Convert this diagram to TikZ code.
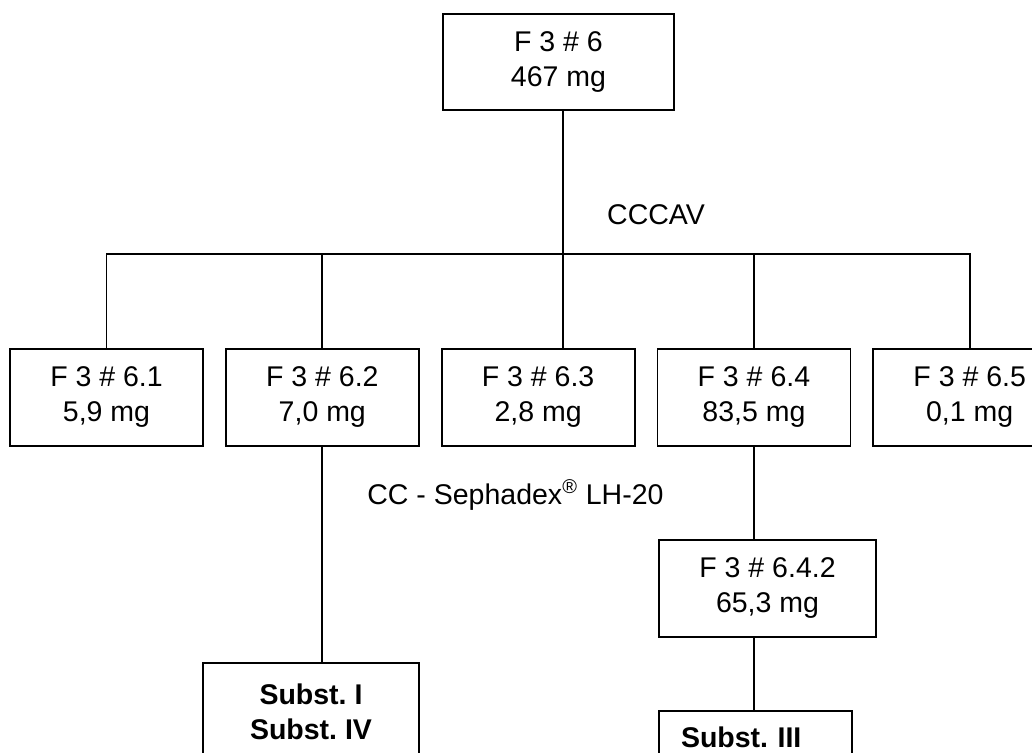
\documentclass[tikz,border=0pt]{standalone}
\usepackage{fontspec}
\setmainfont{Liberation Sans}
\usetikzlibrary{positioning}
\frenchspacing

\begin{document}
\begin{tikzpicture}[x=0.5pt,y=-0.5pt,
  frac/.style={draw,line width=0.9pt,align=center,minimum width=96.5pt,minimum height=48.5pt,inner sep=2pt,font=\fontsize{14.25}{17.5}\selectfont},
  subst/.style={frac,font=\fontsize{14.25}{17.5}\selectfont\bfseries},
  lbl/.style={inner sep=0pt,font=\fontsize{14.25}{17.5}\selectfont},
  link/.style={line width=0.9pt}]
\useasboundingbox (0,0) rectangle (1032,753);
\clip (0,0) rectangle (1032,753);
\node[frac,minimum width=115.5pt,minimum height=48pt] (f6) at (558.5,62) {F 3 \# 6\\467 mg};
\node[frac] (f61) at (106.5,397.5) {F 3 \# 6.1\\5,9 mg};
\node[frac,right=10.5pt of f61] (f62) {F 3 \# 6.2\\7,0 mg};
\node[frac,right=10.5pt of f62] (f63) {F 3 \# 6.3\\2,8 mg};
\node[frac,right=10.5pt of f63] (f64) {F 3 \# 6.4\\83,5 mg};
\node[frac,right=10.5pt of f64] (f65) {F 3 \# 6.5\\0,1 mg};
\coordinate (hub) at (563,254);
\node[lbl] (cccav) at (656,215) {CCCAV};
\draw[link] (f6.south -| hub) -- (hub);
\draw[link] (f61.north) -- (f61.north |- hub) -- (f65.north |- hub) -- (f65.north);
\draw[link] (f62.north) -- (f62.north |- hub);
\draw[link] (hub) -- (hub |- f63.north);
\draw[link] (f64.north) -- (f64.north |- hub);
% second column
\node[frac,minimum width=108.5pt] (f642) at (767.5,588.5) {F 3 \# 6.4.2\\65,3 mg};
\node[subst,minimum width=108pt,anchor=north] (s1) at (311,662) {Subst. I\\Subst. IV};
\node[subst,anchor=north,align=left,text width=74.5pt,inner xsep=11pt,inner ysep=4pt,text height=14.5pt,text depth=26pt] (s3) at (755.5,710) {Subst. III};
\node[lbl,anchor=west] (sepha) at (367,495) {CC - Sephadex\textsuperscript{®} LH-20};
\draw[link] (f62.south) -- (f62.south |- s1.north);
\draw[link] (f64.south) -- (f64.south |- f642.north);
\draw[link] (f64.south |- f642.south) -- (f64.south |- s3.north);
\end{tikzpicture}
\end{document}
